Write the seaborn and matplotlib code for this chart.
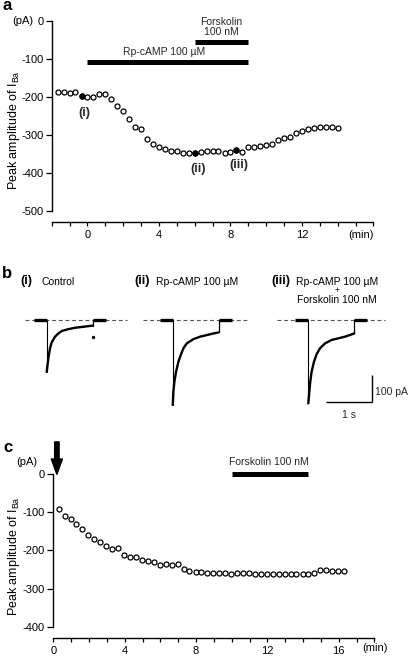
import numpy as np
import pandas as pd
import matplotlib
matplotlib.use('Agg')
import matplotlib.pyplot as plt
import seaborn as sns

# panel a: peak I_Ba every 20 s, Rp-cAMP then forskolin
a_time = [-1.67, -1.33, -1.0, -0.67, -0.33, 0.0, 0.33, 0.67, 1.0, 1.33, 1.67, 2.0,
          2.33, 2.67, 3.0, 3.33, 3.67, 4.0, 4.33, 4.67, 5.0, 5.33, 5.67, 6.0,
          6.33, 6.67, 7.0, 7.33, 7.67, 8.0, 8.33, 8.67, 9.0, 9.33, 9.67, 10.0,
          10.33, 10.67, 11.0, 11.33, 11.67, 12.0, 12.33, 12.67, 13.0, 13.33, 13.67, 14.0]
a_peak = [-189, -188, -191, -188, -198, -202, -200, -192, -192, -205, -225, -237,
          -258, -279, -286, -311, -325, -332, -337, -342, -344, -347, -349, -347,
          -346, -342, -343, -342, -347, -346, -340, -346, -333, -332, -330, -326,
          -325, -314, -309, -305, -295, -289, -284, -282, -280, -280, -281, -282]
a_marked = [4, 23, 30]          # (i), (ii), (iii) sweeps
a_marked_labels = ['(i)', '(ii)', '(iii)']
a_yticks = [0, -100, -200, -300, -400, -500]
a_xticks = [0, 4, 8, 12]

# panel b: current traces (time from pulse onset in s, current in pA)
tr1_t = [0, 0.036, 0.072, 0.109, 0.181, 0.254, 0.326, 0.471, 0.616, 0.761, 1.0]
tr1_i = [-193, -143, -106, -84, -63, -51, -42, -35, -30, -27, -22]
tr2_t = [0, 0.014, 0.036, 0.072, 0.123, 0.174, 0.232, 0.304, 0.449, 0.594, 0.739, 0.884, 1.0]
tr2_i = [-316, -267, -230, -193, -156, -131, -106, -88, -72, -63, -57, -51, -47]
tr3_t = [0, 0.022, 0.043, 0.072, 0.123, 0.181, 0.254, 0.362, 0.507, 0.652, 0.797, 1.0]
tr3_i = [-310, -267, -230, -193, -156, -128, -106, -88, -75, -69, -63, -51]
trace_titles = ['Control', 'Rp-cAMP 100 µM', 'Rp-cAMP 100 µM']

# panel c: peak I_Ba after break-in, forskolin 10-14.3 min
c_time = [0.3, 0.63, 0.97, 1.3, 1.63, 1.97, 2.3, 2.63, 2.97, 3.3, 3.63, 3.97, 4.3,
          4.63, 4.97, 5.3, 5.63, 5.97, 6.3, 6.63, 6.97, 7.3, 7.63, 7.97, 8.3, 8.63,
          8.97, 9.3, 9.63, 9.97, 10.3, 10.63, 10.97, 11.3, 11.63, 11.97, 12.3, 12.63,
          12.97, 13.3, 13.63, 13.97, 14.3, 14.63, 14.97, 15.3, 15.63, 15.97, 16.3]
c_peak = [-92, -109, -118, -131, -143, -159, -169, -179, -188, -196, -194, -212, -217,
          -218, -225, -227, -230, -237, -236, -239, -236, -249, -254, -256, -257, -258,
          -260, -258, -260, -261, -259, -258, -259, -261, -263, -263, -263, -263,
          -262, -262, -262, -263, -262, -258, -252, -252, -254, -254, -254]
c_yticks = [0, -100, -200, -300, -400]
c_xticks = [0, 4, 8, 12, 16]

sns.set_theme(style='ticks')
plt.rcParams['font.family'] = ['Liberation Sans', 'DejaVu Sans']
plt.rcParams['mathtext.default'] = 'regular'

W, H = 410, 659
fig = plt.figure(figsize=(W / 100, H / 100), dpi=100)


def box(x0, y0, x1, y1):
    return [x0 / W, 1 - y1 / H, (x1 - x0) / W, (y1 - y0) / H]


def ftext(x, y, s, **kw):
    kw.setdefault('va', 'center')
    kw.setdefault('color', 'black')
    fig.text(x / W, 1 - y / H, s, **kw)


def style_axis(ax, yticks, xticks, xlo, xhi, ybot):
    for side in ['top', 'right']:
        ax.spines[side].set_visible(False)
    for side in ['left', 'bottom']:
        ax.spines[side].set_linewidth(1.0)
        ax.spines[side].set_color('black')
    ax.spines['left'].set_bounds(ybot, 0)
    ax.spines['bottom'].set_bounds(xlo, xhi)
    ax.set_yticks(yticks)
    ax.set_yticklabels([str(v) for v in yticks])
    ax.set_xticks(xticks)
    ax.set_xticklabels([str(v) for v in xticks])
    ax.set_xticks([v for v in range(xlo, xhi + 1) if v not in xticks], minor=True)
    ax.tick_params(axis='both', which='both', direction='out', color='black',
                   labelcolor='black', labelsize=8, width=0.9)
    ax.tick_params(axis='y', length=4, pad=2)
    ax.tick_params(axis='x', which='both', length=3, pad=2.5)
    ax.set_xlabel('')
    ax.set_ylabel('')


def scatter(ax, x, y, filled=None):
    df = pd.DataFrame({'t': x, 'peak': y})
    sns.scatterplot(data=df, x='t', y='peak', ax=ax, marker='o', s=13,
                    facecolor='white', edgecolor='black', linewidth=0.9, zorder=3)
    if filled:
        sns.scatterplot(data=df.iloc[filled], x='t', y='peak', ax=ax, marker='o', s=13,
                        color='black', edgecolor='black', linewidth=0.9, zorder=4)


# ---------------- panel a ----------------
ax_a = fig.add_axes(box(51.7, 10, 380, 222))
scatter(ax_a, a_time, a_peak, a_marked)
ax_a.set_xlim(-2, 16.37)
ax_a.set_ylim(-529.7, 28)
style_axis(ax_a, a_yticks, a_xticks, -2, 16, -500)

ax_a.plot([0, 9], [-110, -110], color='black', lw=3.6, solid_capstyle='butt')
ax_a.plot([6, 9], [-55, -55], color='black', lw=3.6, solid_capstyle='butt')
ax_a.text(4.3, -83, 'Rp-cAMP 100 µM', ha='center', va='center', fontsize=7.5)
ax_a.text(7.5, -16, 'Forskolin\n100 nM', ha='center', va='center', fontsize=7.5,
          linespacing=1.05)
label_pos = [(-0.19, -244), (6.19, -391), (8.48, -380)]
for (lx, ly), lab in zip(label_pos, a_marked_labels):
    ax_a.text(lx, ly, lab, ha='center', va='center', fontsize=9, fontweight='bold')

ftext(23, 21, '(pA)', ha='center', fontsize=8)
ftext(361, 235, '(min)', ha='center', fontsize=8)
ftext(14, 130, 'Peak amplitude of I$_{Ba}$', ha='center', rotation=90, fontsize=9)
ftext(7, 6, 'a', ha='center', fontsize=12, fontweight='bold')

# ---------------- panel b ----------------
ax_b = fig.add_axes(box(0, 260, 410, 430))
ax_b.set_xlim(-1.015, 7.898)
ax_b.set_ylim(-408.5, 221)
ax_b.axis('off')

trace_offsets = [0, 2.74, 5.687]
dash_spans = [(-0.47, 1.75), (-0.65, 1.64), (-0.68, 1.67)]
traces = [(tr1_t, tr1_i), (tr2_t, tr2_i), (tr3_t, tr3_i)]
for (tt, ii), off, (d0, d1) in zip(traces, trace_offsets, dash_spans):
    ax_b.plot([off + d0, off + d1], [0, 0], color='#555555', lw=0.8,
              dashes=(3.5, 2.5), zorder=1)
    ax_b.plot([off - 0.28, off], [0, 0], color='black', lw=2.4, solid_capstyle='butt')
    ax_b.plot([off + 1.0, off + 1.28], [0, 0], color='black', lw=2.4, solid_capstyle='butt')
    ax_b.plot([off, off], [0, ii[0]], color='black', lw=0.8)
    ax_b.plot([off + 1.0, off + 1.0], [ii[-1], 0], color='black', lw=0.9)
    df = pd.DataFrame({'t': [off + v for v in tt], 'i': ii})
    sns.lineplot(data=df, x='t', y='i', ax=ax_b, sort=False, estimator=None,
                 color='black', lw=1.7, zorder=3)
ax_b.plot([1.01], [-65], marker='o', ms=1.4, color='black')

# scale bars
ax_b.plot([7.07, 7.07], [-204.8, -304.8], color='black', lw=1.0, solid_capstyle='butt')
ax_b.plot([6.07, 7.07], [-304.8, -304.8], color='black', lw=1.0, solid_capstyle='butt')
ax_b.text(7.14, -268, '100 pA', ha='left', va='center', fontsize=7.5)
ax_b.text(6.57, -353, '1 s', ha='center', va='center', fontsize=7.5)

ftext(7, 273, 'b', ha='center', fontsize=12, fontweight='bold')
ftext(26, 281, '(i)', ha='center', fontsize=9, fontweight='bold')
ftext(41, 282, trace_titles[0], ha='left', fontsize=7.5)
ftext(142, 281, '(ii)', ha='center', fontsize=9, fontweight='bold')
ftext(156, 282, trace_titles[1], ha='left', fontsize=7.5)
ftext(281, 281, '(iii)', ha='center', fontsize=9, fontweight='bold')
ftext(296, 282, trace_titles[2], ha='left', fontsize=7.5)
ftext(337, 291, '+', ha='center', fontsize=6.5)
ftext(297, 300, 'Forskolin 100 nM', ha='left', fontsize=7.5)

# ---------------- panel c ----------------
ax_c = fig.add_axes(box(53.3, 440, 385, 638))
scatter(ax_c, c_time, c_peak)
ax_c.set_xlim(0, 18.59)
ax_c.set_ylim(-429.7, 90)
style_axis(ax_c, c_yticks, c_xticks, 0, 18, -400)

ax_c.plot([10, 14.3], [1, 1], color='black', lw=3.6, solid_capstyle='butt', clip_on=False)
ax_c.text(12.1, 31, 'Forskolin 100 nM', ha='center', va='center', fontsize=7.5)
ax_c.annotate('', xy=(0.2, 0), xytext=(0.2, 85), annotation_clip=False,
              arrowprops=dict(facecolor='black', edgecolor='black', width=3.2,
                              headwidth=8, headlength=11, shrink=0))

ftext(27, 462, '(pA)', ha='center', fontsize=8)
ftext(375, 648, '(min)', ha='center', fontsize=8)
ftext(14, 556, 'Peak amplitude of I$_{Ba}$', ha='center', rotation=90, fontsize=9)
ftext(8, 448, 'c', ha='center', fontsize=12, fontweight='bold')

fig.savefig('out.png', dpi=100)
